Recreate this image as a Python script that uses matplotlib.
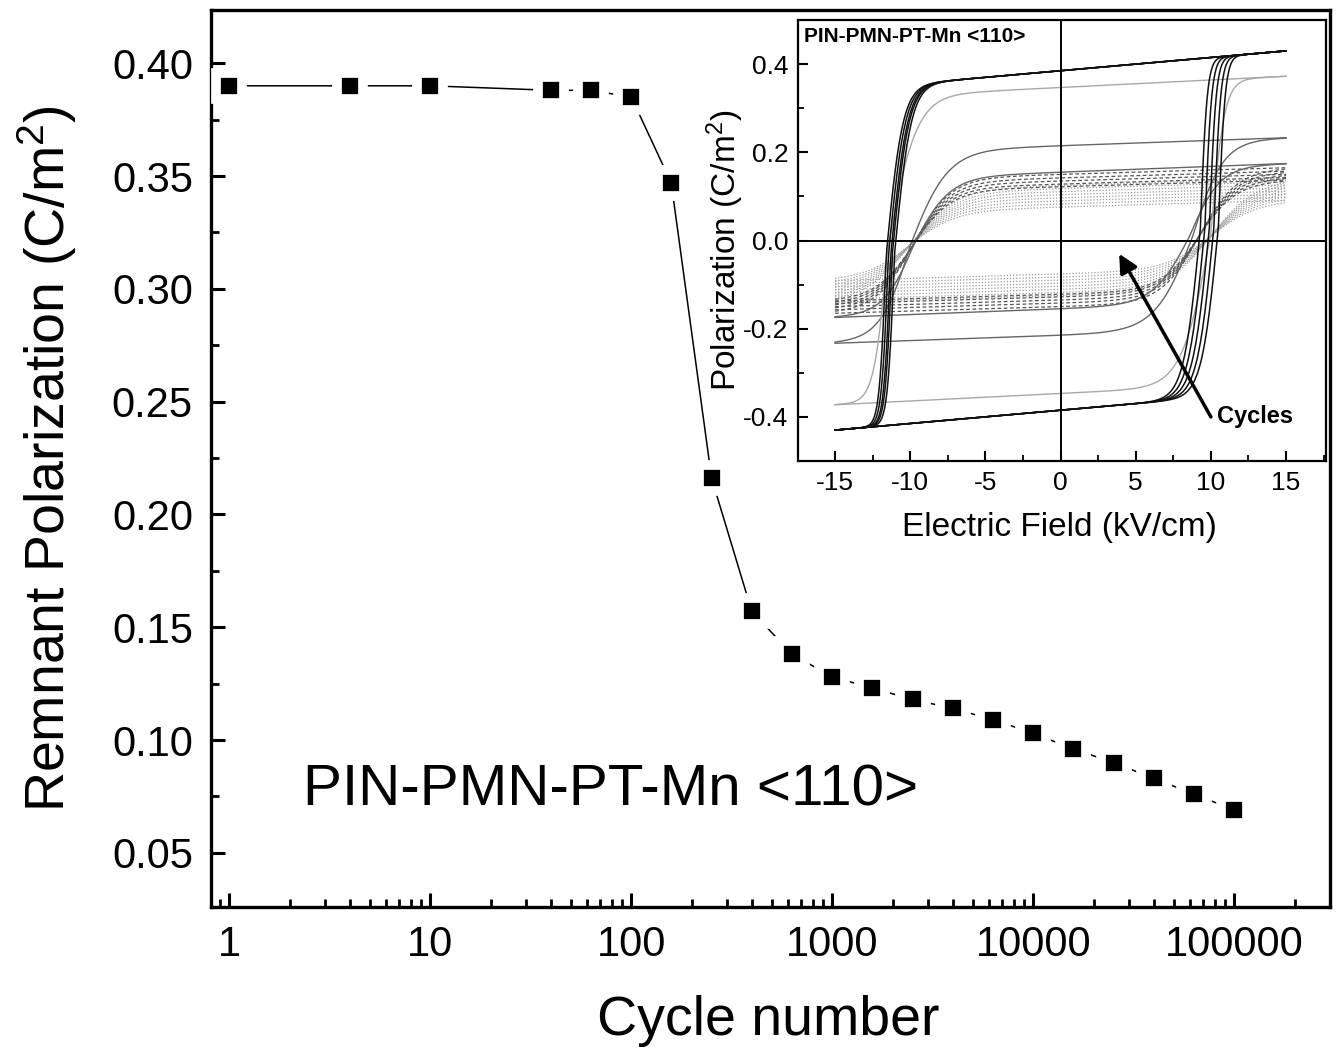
import numpy as np
import matplotlib
matplotlib.use("Agg")
import matplotlib.pyplot as plt
from matplotlib.ticker import FixedLocator, FixedFormatter, MultipleLocator, LogLocator, NullFormatter

plt.rcParams['font.family'] = ['Liberation Sans', 'DejaVu Sans']
plt.rcParams['mathtext.fontset'] = 'custom'
plt.rcParams['mathtext.rm'] = 'Liberation Sans'
plt.rcParams['mathtext.it'] = 'Liberation Sans:italic'
plt.rcParams['axes.unicode_minus'] = False

# ---------------- main data ----------------
cycles = [1, 4, 10, 40, 63, 100, 158, 251, 398, 631, 1000, 1585, 2512, 3981,
          6310, 10000, 15849, 25119, 39811, 63096, 100000]
remnant_pol = [0.390, 0.390, 0.390, 0.388, 0.388, 0.385, 0.347, 0.216, 0.157,
               0.138, 0.128, 0.123, 0.118, 0.114, 0.109, 0.103, 0.096, 0.090,
               0.083, 0.076, 0.069]
x_ticks = [1, 10, 100, 1000, 10000, 100000]
x_tick_labels = ['1', '10', '100', '1000', '10000', '100000']
y_ticks = [0.05, 0.10, 0.15, 0.20, 0.25, 0.30, 0.35, 0.40]
y_tick_labels = ['0.05', '0.10', '0.15', '0.20', '0.25', '0.30', '0.35', '0.40']

# ---------------- inset loop parameters ----------------
# plateau polarization at E=0, slope, coercive fields, corner widths, style group
loop_A = [0.125, 0.118, 0.111, 0.104, 0.097, 0.090, 0.083, 0.076,
          0.150, 0.142, 0.135, 0.128, 0.122,
          0.155, 0.215, 0.347,
          0.385, 0.385, 0.385, 0.385, 0.385]
loop_k = [0.001] * 8 + [0.001] * 5 + [0.0013, 0.0012, 0.0017] + [0.003] * 5
loop_EcL = [-10.0] * 8 + [-9.8] * 5 + [-9.8, -10.0, -11.5] + [-11.6, -11.45, -11.3, -11.2, -11.05]
loop_EcR = [10.0] * 8 + [9.2] * 5 + [8.6, 8.8, 10.0] + [9.3, 9.6, 9.9, 10.2, 10.5]
loop_w_round = [3.0] * 8 + [2.5] * 5 + [2.4, 2.5, 1.9] + [1.1] * 5
loop_w_sharp = [3.0] * 8 + [2.5] * 5 + [2.0, 2.0, 0.9] + [0.45] * 5
loop_style = ['dot'] * 8 + ['dash'] * 5 + ['mid', 'mid', 'light'] + ['black'] * 5

inset_xticks = [-15, -10, -5, 0, 5, 10, 15]
inset_xticklabels = ['-15', '-10', '-5', '0', '5', '10', '15']
inset_yticks = [-0.4, -0.2, 0.0, 0.2, 0.4]
inset_yticklabels = ['-0.4', '-0.2', '0.0', '0.2', '0.4']

styles = {
    'dot': dict(color='#9a9a9a', lw=0.9, ls=(0, (1, 1.5)), zorder=2),
    'dash': dict(color='#555555', lw=0.9, ls=(0, (3, 2)), zorder=3),
    'mid': dict(color='#666666', lw=1.0, ls='-', zorder=4),
    'light': dict(color='#a8a8a8', lw=1.0, ls='-', zorder=4),
    'black': dict(color='#111111', lw=1.1, ls='-', zorder=5),
}


def branch(E, A, k, Ec, w_round, w_sharp, descending):
    u = E - Ec
    if descending:
        w = np.where(u > 0, w_round, w_sharp)
    else:
        w = np.where(u < 0, w_round, w_sharp)
    return A * np.tanh(u / w) + k * E


fig = plt.figure(figsize=(13.37, 10.53), dpi=100)

# ---------------- main axes ----------------
ax = fig.add_axes([0.1578, 0.1387, 0.837, 0.8518])
ax.set_xscale('log')
ax.plot(cycles, remnant_pol, color='black', lw=1.1, marker='s', ms=19,
        mfc='black', mec='white', mew=7, zorder=3)
ax.set_xlim(0.81, 3.0e5)
ax.set_ylim(0.026, 0.4236)
ax.xaxis.set_major_locator(FixedLocator(x_ticks))
ax.xaxis.set_major_formatter(FixedFormatter(x_tick_labels))
ax.xaxis.set_minor_locator(LogLocator(base=10, subs=np.arange(2, 10), numticks=20))
ax.xaxis.set_minor_formatter(NullFormatter())
ax.yaxis.set_major_locator(FixedLocator(y_ticks))
ax.yaxis.set_major_formatter(FixedFormatter(y_tick_labels))
ax.yaxis.set_minor_locator(MultipleLocator(0.025))
ax.tick_params(which='major', direction='in', length=10, width=2.2,
               labelsize=30, pad=13, top=False, right=False)
ax.tick_params(which='minor', direction='in', length=5.5, width=2.0,
               top=False, right=False)
for s in ax.spines.values():
    s.set_linewidth(2.4)
ax.set_xlabel('Cycle number', fontsize=40)
ax.set_ylabel('Remnant Polarization (C/m$^2$)', fontsize=40)
ax.xaxis.set_label_coords(0.498, -0.098)
ax.yaxis.set_label_coords(-0.118, 0.5)
ax.text(0.082, 0.13, 'PIN-PMN-PT-Mn <110>', transform=ax.transAxes,
        fontsize=42, va='center', ha='left')

# ---------------- inset ----------------
axin = fig.add_axes([0.5969, 0.5622, 0.3949, 0.4188])
axin.set_facecolor('white')
E = np.linspace(-15, 15, 401)
for A, k, eL, eR, wr, ws, st in zip(loop_A, loop_k, loop_EcL, loop_EcR,
                                    loop_w_round, loop_w_sharp, loop_style):
    up = branch(E, A, k, eL, wr, ws, True)
    lo = branch(E, A, k, eR, wr, ws, False)
    axin.plot(E, up, **styles[st])
    axin.plot(E, lo, **styles[st])
axin.axhline(0, color='black', lw=1.4, zorder=6)
axin.axvline(0, color='black', lw=1.4, zorder=6)
axin.set_xlim(-17.46, 17.66)
axin.set_ylim(-0.5, 0.5)
axin.xaxis.set_major_locator(FixedLocator(inset_xticks))
axin.xaxis.set_major_formatter(FixedFormatter(inset_xticklabels))
axin.xaxis.set_minor_locator(MultipleLocator(2.5))
axin.yaxis.set_major_locator(FixedLocator(inset_yticks))
axin.yaxis.set_major_formatter(FixedFormatter(inset_yticklabels))
axin.yaxis.set_minor_locator(MultipleLocator(0.1))
axin.tick_params(which='major', direction='in', length=7, width=1.5,
                 labelsize=19, pad=7, top=False, right=False)
axin.tick_params(which='minor', direction='in', length=4, width=1.3,
                 top=False, right=False)
for s in axin.spines.values():
    s.set_linewidth(1.6)
axin.set_xlabel('Electric Field (kV/cm)', fontsize=24)
axin.set_ylabel('Polarization (C/m$^2$)', fontsize=24)
axin.xaxis.set_label_coords(0.496, -0.115)
axin.yaxis.set_label_coords(-0.098, 0.478)
axin.text(0.012, 0.962, 'PIN-PMN-PT-Mn <110>', transform=axin.transAxes,
          fontsize=15, fontweight='bold', va='center', ha='left', zorder=7)
axin.annotate('', xy=(3.9, -0.03), xytext=(10.0, -0.40),
              arrowprops=dict(arrowstyle='-|>', lw=2.5, color='black',
                              mutation_scale=28, shrinkA=0, shrinkB=0),
              zorder=7)
axin.text(10.4, -0.40, 'Cycles', fontsize=17, fontweight='bold',
          va='center', ha='left', zorder=7)

fig.savefig('out.png', dpi=100)
